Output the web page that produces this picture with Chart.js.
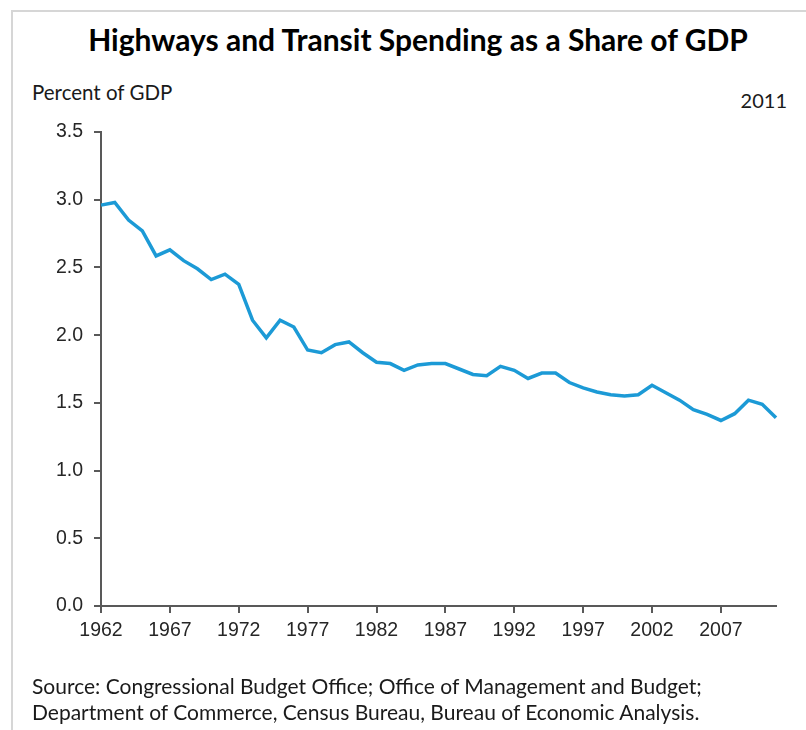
<!DOCTYPE html>
<html>
<head>
<meta charset="utf-8">
<title>Highways and Transit Spending as a Share of GDP</title>
<script src="https://cdn.jsdelivr.net/npm/chart.js@4.4.1/dist/chart.umd.min.js"></script>
<style>
  body { margin: 0; background: #fff; }
  #wrap { position: relative; width: 806px; height: 730px; overflow: hidden; font-family: Lato, "Open Sans", sans-serif; color: #1a1a1a; }
  #frame { position: absolute; left: 11px; top: 10px; width: 830px; height: 800px; border: 2px solid #d6d6d6; }
  #chartTitle { position: absolute; left: 0; top: 24px; width: 836px; text-align: center; font-weight: bold; font-size: 30px; line-height: 30px; color: #000; }
  #unitLabel { position: absolute; left: 32px; top: 82px; font-size: 20.5px; line-height: 20px; }
  #yearLabel { position: absolute; right: 19px; top: 90px; font-size: 20px; line-height: 20px; }
  #source { position: absolute; left: 32px; top: 673px; font-size: 21px; line-height: 26px; }
  canvas { position: absolute; left: 0; top: 0; }
</style>
</head>
<body>
<div id="wrap">
  <div id="frame"></div>
  <div id="chartTitle">Highways and Transit Spending as a Share of GDP</div>
  <div id="unitLabel">Percent of GDP</div>
  <div id="yearLabel">2011</div>
  <canvas id="chart" width="806" height="730"></canvas>
  <div id="source">Source: Congressional Budget Office; Office of Management and Budget;<br>Department of Commerce, Census Bureau, Bureau of Economic Analysis.</div>
</div>
<script>
// fiscal years shown on the chart
const years = [1962, 1963, 1964, 1965, 1966, 1967, 1968, 1969, 1970, 1971,
  1972, 1973, 1974, 1975, 1976, 1977, 1978, 1979, 1980, 1981,
  1982, 1983, 1984, 1985, 1986, 1987, 1988, 1989, 1990, 1991,
  1992, 1993, 1994, 1995, 1996, 1997, 1998, 1999, 2000, 2001,
  2002, 2003, 2004, 2005, 2006, 2007, 2008, 2009, 2010, 2011];

// spending, percent of GDP
const shareOfGdp = [2.96, 2.98, 2.85, 2.77, 2.585, 2.63, 2.55, 2.49, 2.41, 2.45,
  2.375, 2.11, 1.98, 2.11, 2.06, 1.89, 1.87, 1.93, 1.95, 1.87,
  1.80, 1.79, 1.74, 1.78, 1.79, 1.79, 1.75, 1.71, 1.70, 1.77,
  1.74, 1.68, 1.72, 1.72, 1.65, 1.61, 1.58, 1.56, 1.55, 1.56,
  1.63, 1.575, 1.52, 1.45, 1.415, 1.37, 1.42, 1.52, 1.49, 1.39];

const xTickLabels = ['1962', '1967', '1972', '1977', '1982', '1987', '1992', '1997', '2002', '2007'];
const yTickLabels = ['0.0', '0.5', '1.0', '1.5', '2.0', '2.5', '3.0', '3.5'];

const axisColor = '#595959';
const tickFont = { family: '"Liberation Sans", Arial, sans-serif', size: 19.5 };

new Chart(document.getElementById('chart'), {
  type: 'line',
  data: {
    datasets: [{
      data: years.map((y, i) => ({ x: y, y: shareOfGdp[i] })),
      borderColor: '#1C9AD6',
      borderWidth: 3.5,
      pointRadius: 0,
      tension: 0,
      clip: false
    }]
  },
  options: {
    responsive: false,
    animation: false,
    layout: { padding: { top: 132, left: 0, right: 30, bottom: 84 } },
    plugins: { legend: { display: false }, tooltip: { enabled: false } },
    scales: {
      x: {
        type: 'linear',
        min: years[0],
        max: years[years.length - 1],
        afterBuildTicks: s => { s.ticks = xTickLabels.map(t => ({ value: Number(t) })); },
        afterFit: s => { s.height = 40; },
        border: { color: axisColor, width: 2 },
        grid: { drawOnChartArea: false, tickLength: 7, color: axisColor, lineWidth: 2 },
        ticks: { color: '#262626', font: tickFont, padding: 6, maxRotation: 0, autoSkip: false, callback: v => String(v) }
      },
      y: {
        min: 0,
        max: 3.5,
        afterBuildTicks: s => { s.ticks = yTickLabels.map(t => ({ value: Number(t) })); },
        afterFit: s => { s.width = 101; },
        border: { color: axisColor, width: 2 },
        grid: { drawOnChartArea: false, tickLength: 7, color: axisColor, lineWidth: 2 },
        ticks: { color: '#262626', font: tickFont, padding: 11, callback: v => v.toFixed(1) }
      }
    }
  }
});
</script>
</body>
</html>
